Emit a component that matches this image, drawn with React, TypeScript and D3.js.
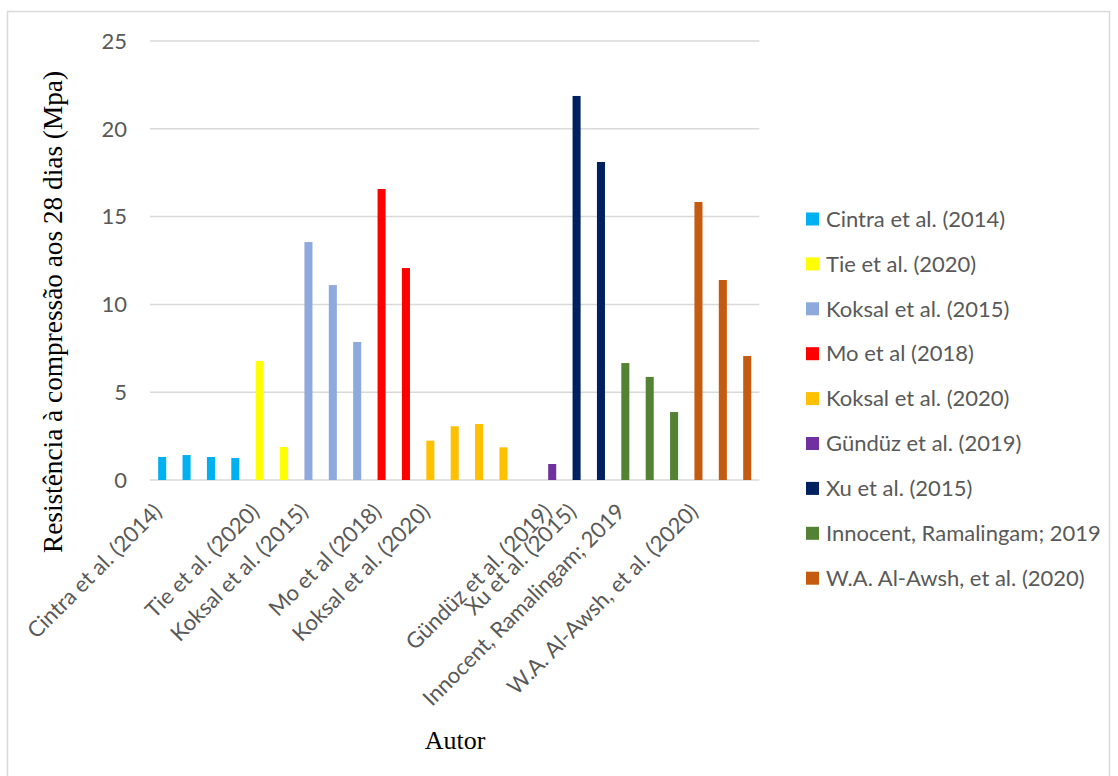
import React from "react";
import * as d3 from "d3";

const categories: string[] = [
  "Cintra et al. (2014)", "", "", "",
  "Tie et al. (2020)", "",
  "Koksal et al. (2015)", "", "",
  "Mo et al (2018)", "",
  "Koksal et al. (2020)", "", "", "", "",
  "Gündüz et al. (2019)",
  "Xu et al. (2015)", "",
  "Innocent, Ramalingam; 2019", "", "",
  "W.A. Al-Awsh, et al. (2020)", "", "",
];

const seriesNames: string[] = [
  "Cintra et al. (2014)",
  "Tie et al. (2020)",
  "Koksal et al. (2015)",
  "Mo et al (2018)",
  "Koksal et al. (2020)",
  "Gündüz et al. (2019)",
  "Xu et al. (2015)",
  "Innocent, Ramalingam; 2019",
  "W.A. Al-Awsh, et al. (2020)",
];

const cintraValues = [1.31, 1.42, 1.31, 1.25];
const tieValues = [6.78, 1.88];
const koksal2015Values = [13.55, 11.1, 7.86];
const moValues = [16.57, 12.07];
const koksal2020Values = [2.24, 3.06, 3.19, 1.86];
const gunduzValues = [0.91];
const xuValues = [21.87, 18.11];
const innocentValues = [6.66, 5.87, 3.87];
const alAwshValues = [15.83, 11.39, 7.06];

const seriesValues: number[][] = [
  cintraValues, tieValues, koksal2015Values, moValues, koksal2020Values,
  gunduzValues, xuValues, innocentValues, alAwshValues,
];

const seriesColors: string[] = [
  "#00B0F0", "#FFFF00", "#8EA9DB", "#FF0000", "#FFC000",
  "#7030A0", "#002060", "#548235", "#C55A11",
];

const yTicks = [0, 5, 10, 15, 20, 25];

const W = 1118;
const H = 776;
const plotLeft = 150;
const plotRight = 759.4;
const plotTop = 41;
const plotBottom = 480;

const tickFont = "Lato, 'Open Sans', sans-serif";
const grey = "#595959";
const fs = 22;

export default function App() {
  const x = d3
    .scaleBand<number>()
    .domain(categories.map((_, i) => i))
    .range([plotLeft, plotRight])
    .paddingInner(0.67)
    .paddingOuter(0.335);
  const y = d3.scaleLinear().domain([0, 25]).range([plotBottom, plotTop]);

  const bars: { key: string; x: number; y: number; w: number; h: number; color: string }[] = [];
  seriesNames.forEach((name, s) => {
    const start = categories.indexOf(name);
    seriesValues[s].forEach((v, j) => {
      const ci = start + j;
      bars.push({
        key: `${s}-${j}`,
        x: x(ci) as number,
        y: y(v),
        w: x.bandwidth(),
        h: y(0) - y(v),
        color: seriesColors[s],
      });
    });
  });

  const legendTop = 219;
  const legendStep = 44.9;

  return (
    <svg
      width={W}
      height={H}
      style={{ position: "absolute", left: 0, top: 0, display: "block", background: "#fff" }}
    >
      <rect x={7.5} y={11.5} width={1102} height={790} fill="#fff" stroke="#D9D9D9" strokeWidth={1.5} />
      {yTicks.map((t) => (
        <g key={t}>
          <line x1={plotLeft} x2={plotRight} y1={y(t)} y2={y(t)} stroke="#D9D9D9" strokeWidth={1.5} />
          <text
            x={127}
            y={y(t)}
            dy="0.35em"
            textAnchor="end"
            fontFamily={tickFont}
            fontSize={fs}
            fill={grey}
          >
            {t}
          </text>
        </g>
      ))}
      {bars.map((b) => (
        <rect key={b.key} x={b.x} y={b.y} width={b.w} height={b.h} fill={b.color} />
      ))}
      {categories.map((c, i) =>
        c ? (
          <text
            key={i}
            transform={`translate(${(x(i) as number) + x.bandwidth() / 2 + 1},${513}) rotate(-45)`}
            textAnchor="end"
            fontFamily={tickFont}
            fontSize={fs}
            fill={grey}
          >
            {c}
          </text>
        ) : null
      )}
      <text
        transform={`translate(62,312) rotate(-90)`}
        textAnchor="middle"
        fontFamily="'Liberation Serif', 'Times New Roman', serif"
        fontSize={27.3}
        fill="#000"
      >
        Resistência à compressão aos 28 dias (Mpa)
      </text>
      <text
        x={455}
        y={749}
        textAnchor="middle"
        fontFamily="'Liberation Serif', 'Times New Roman', serif"
        fontSize={26}
        fill="#000"
      >
        Autor
      </text>
      {seriesNames.map((n, i) => (
        <g key={n} transform={`translate(806,${legendTop + i * legendStep})`}>
          <rect x={0} y={-6.5} width={13} height={13} fill={seriesColors[i]} />
          <text x={20} y={0} dy="0.35em" fontFamily={tickFont} fontSize={fs} fill={grey}>
            {n}
          </text>
        </g>
      ))}
    </svg>
  );
}
